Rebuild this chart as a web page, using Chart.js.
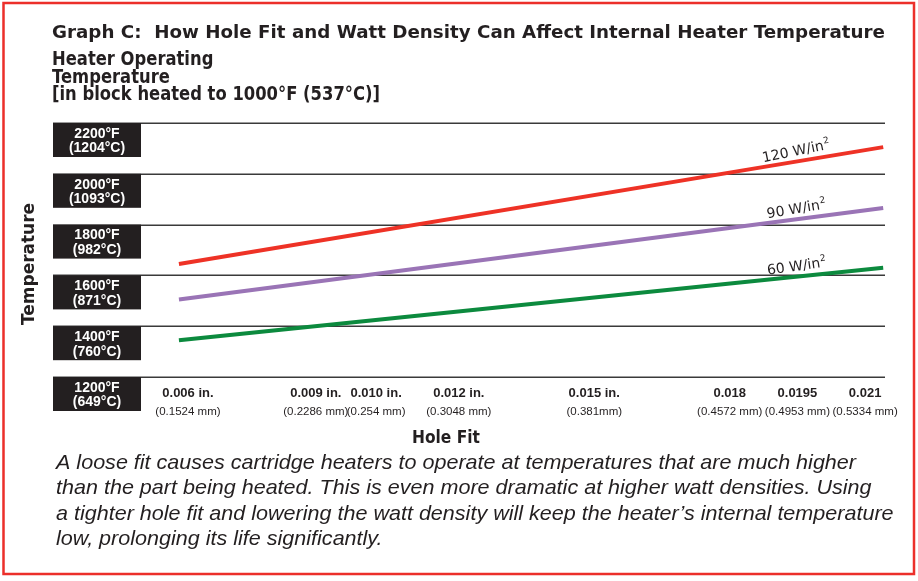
<!DOCTYPE html>
<html>
<head>
<meta charset="utf-8">
<script src="https://cdn.jsdelivr.net/npm/chart.js@4.4.0/dist/chart.umd.min.js"></script>
<style>
  html, body { margin: 0; padding: 0; background: #fff; }
  #wrap { position: relative; width: 918px; height: 581px; }
</style>
</head>
<body>
<div id="wrap"><canvas id="chart" width="918" height="581"></canvas></div>
<script>
// hole fit ticks (inches) and their labels
const holeFitIn = [0.006, 0.009, 0.010, 0.012, 0.015, 0.018, 0.0195, 0.021];
const holeFitInLabels = ['0.006 in.', '0.009 in.', '0.010 in.', '0.012 in.', '0.015 in.', '0.018', '0.0195', '0.021'];
const holeFitMmLabels = ['(0.1524 mm)', '(0.2286 mm)', '(0.254 mm)', '(0.3048 mm)', '(0.381mm)', '(0.4572 mm)', '(0.4953 mm)', '(0.5334 mm)'];

// temperature ticks
const tempTicksF = [1200, 1400, 1600, 1800, 2000, 2200];
const tempLabelsF = ['1200°F', '1400°F', '1600°F', '1800°F', '2000°F', '2200°F'];
const tempLabelsC = ['(649°C)', '(760°C)', '(871°C)', '(982°C)', '(1093°C)', '(1204°C)'];

// watt density lines (start / end of each line)
const seriesNames = ['120 W/in', '90 W/in', '60 W/in'];
const lineX = [0.0058, 0.0214];
const temp120 = [1645, 2105];
const temp90 = [1505, 1865];
const temp60 = [1345, 1630];

const INK = '#231f20';
const GOTHIC = '"DejaVu Sans", sans-serif';
const HELV = '"Liberation Sans", Arial, sans-serif';

// draw text squeezed/stretched horizontally by sx
function drawScaled(ctx, text, x, y, sx, align) {
  ctx.save();
  ctx.translate(x, y);
  ctx.scale(sx, 1);
  ctx.textAlign = align || 'left';
  ctx.fillText(text, 0, 0);
  ctx.restore();
}

const decorations = {
  id: 'decorations',
  beforeDatasetsDraw(chart) {
    const { ctx, chartArea, scales } = chart;
    const y = scales.y;
    ctx.save();
    // grid lines
    ctx.strokeStyle = '#3a3a3a';
    ctx.lineWidth = 1.5;
    tempTicksF.forEach(t => {
      const py = Math.round(y.getPixelForValue(t)) + 0.25;
      ctx.beginPath();
      ctx.moveTo(53, py);
      ctx.lineTo(chartArea.right, py);
      ctx.stroke();
    });
    // black label boxes hanging under each grid line
    tempTicksF.forEach((t, i) => {
      const py = y.getPixelForValue(t);
      ctx.fillStyle = '#231f20';
      ctx.fillRect(53, py, chartArea.left - 53, 34);
      ctx.fillStyle = '#fff';
      ctx.font = 'bold 14px ' + HELV;
      ctx.textAlign = 'center';
      ctx.textBaseline = 'middle';
      ctx.fillText(tempLabelsF[i], 97, py + 11);
      ctx.fillText(tempLabelsC[i], 97, py + 25.5);
    });
    ctx.restore();
  },
  afterDatasetsDraw(chart) {
    const { ctx, scales } = chart;
    const x = scales.x;
    ctx.save();
    ctx.fillStyle = INK;
    // line labels, lying along each line
    chart.data.datasets.forEach((ds, i) => {
      const meta = chart.getDatasetMeta(i);
      const p0 = meta.data[0], p1 = meta.data[meta.data.length - 1];
      const ang = Math.atan2(p1.y - p0.y, p1.x - p0.x);
      const px = x.getPixelForValue(0.0195);
      const py = p0.y + (p1.y - p0.y) * (px - p0.x) / (p1.x - p0.x);
      ctx.save();
      ctx.translate(px + 11 * Math.sin(ang), py - 11 * Math.cos(ang));
      ctx.rotate(ang - 0.04);
      ctx.font = '14px ' + GOTHIC;
      ctx.textBaseline = 'alphabetic';
      const main = seriesNames[i];
      const w = ctx.measureText(main).width;
      ctx.font = '9px ' + GOTHIC;
      const ws = ctx.measureText('2').width;
      const start = -(w + ws) / 2;
      ctx.font = '14px ' + GOTHIC;
      ctx.textAlign = 'left';
      ctx.fillText(main, start, 5);
      ctx.font = '9px ' + GOTHIC;
      ctx.fillText('2', start + w + 0.5, -1);
      ctx.restore();
    });

    // x tick labels, nudged apart where they would overlap
    ctx.font = '11px ' + HELV;
    const widths = holeFitMmLabels.map(s => ctx.measureText(s).width);
    const centers = holeFitIn.map(v => x.getPixelForValue(v));
    for (let k = 1; k < centers.length; k++) {
      const gap = (widths[k - 1] + widths[k]) / 2 + 1;
      if (centers[k] - centers[k - 1] < gap) {
        const d = (gap - (centers[k] - centers[k - 1])) / 2;
        centers[k - 1] -= d;
        centers[k] += d;
      }
    }
    ctx.textAlign = 'center';
    ctx.textBaseline = 'middle';
    centers.forEach((cx, k) => {
      ctx.font = 'bold 13px ' + HELV;
      ctx.fillText(holeFitInLabels[k], cx, 393);
      ctx.font = '11.5px ' + HELV;
      ctx.fillText(holeFitMmLabels[k], cx, 412);
    });
    ctx.restore();
  },
  afterDraw(chart) {
    const { ctx } = chart;
    ctx.save();
    ctx.fillStyle = INK;
    ctx.textBaseline = 'alphabetic';

    // title
    const title = 'Graph C:  How Hole Fit and Watt Density Can Affect Internal Heater Temperature';
    ctx.font = 'bold 18px ' + GOTHIC;
    drawScaled(ctx, title, 52, 38, 833 / ctx.measureText(title).width);

    // y caption block
    const sub = ['Heater Operating', 'Temperature', '[in block heated to 1000°F (537°C)]'];
    ctx.font = 'bold 19px ' + GOTHIC;
    const subScale = 328 / ctx.measureText(sub[2]).width;
    sub.forEach((s, i) => drawScaled(ctx, s, 52, [65, 83, 100][i], subScale));

    // rotated axis title
    ctx.save();
    ctx.translate(34, 264);
    ctx.rotate(-Math.PI / 2);
    ctx.font = 'bold 18px ' + GOTHIC;
    drawScaled(ctx, 'Temperature', 0, 0, 122 / ctx.measureText('Temperature').width, 'center');
    ctx.restore();

    // x axis title
    ctx.font = 'bold 18px ' + GOTHIC;
    drawScaled(ctx, 'Hole Fit', 446, 443, 68 / ctx.measureText('Hole Fit').width, 'center');

    // note under the chart
    const note = [
      'A loose fit causes cartridge heaters to operate at temperatures that are much higher',
      'than the part being heated. This is even more dramatic at higher watt densities. Using',
      'a tighter hole fit and lowering the watt density will keep the heater\u2019s internal temperature',
      'low, prolonging its life significantly.'
    ];
    ctx.font = 'italic 21px ' + HELV;
    const noteScale = 800 / ctx.measureText(note[0]).width;
    note.forEach((s, i) => drawScaled(ctx, s, 56, 469 + i * 25.3, noteScale));

    // red frame
    ctx.strokeStyle = '#ec2f2a';
    ctx.lineWidth = 2.5;
    ctx.strokeRect(3.5, 3, 910.5, 571);
    ctx.restore();
  }
};

const toPoints = ys => lineX.map((v, i) => ({ x: v, y: ys[i] }));

new Chart(document.getElementById('chart'), {
  type: 'line',
  data: {
    datasets: [
      { label: seriesNames[0], data: toPoints(temp120), borderColor: '#ee3226', borderWidth: 4 },
      { label: seriesNames[1], data: toPoints(temp90), borderColor: '#9a74b6', borderWidth: 4 },
      { label: seriesNames[2], data: toPoints(temp60), borderColor: '#0c8a3e', borderWidth: 4 }
    ]
  },
  options: {
    responsive: false,
    animation: false,
    devicePixelRatio: 1,
    layout: { padding: { left: 141, right: 33, top: 123, bottom: 204 } },
    elements: { point: { radius: 0 }, line: { tension: 0, borderCapStyle: 'butt' } },
    plugins: { legend: { display: false }, tooltip: { enabled: false } },
    scales: {
      x: { type: 'linear', min: 0.00496, max: 0.02144, display: false },
      y: { type: 'linear', min: 1200, max: 2200, display: false }
    }
  },
  plugins: [decorations]
});
</script>
</body>
</html>
